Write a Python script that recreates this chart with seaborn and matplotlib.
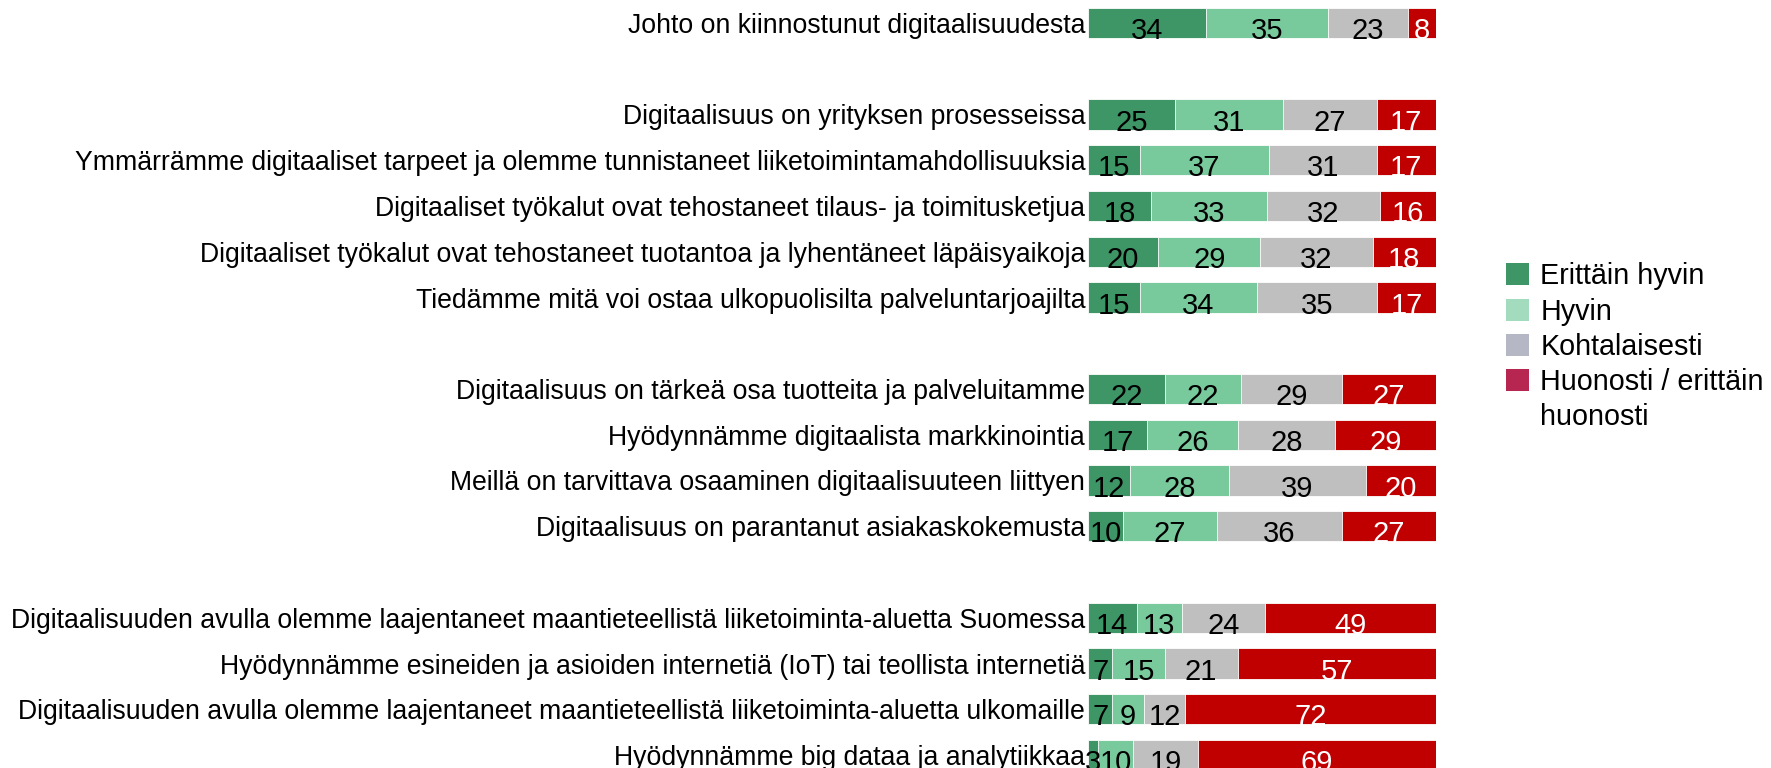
import numpy as np
import pandas as pd
import seaborn as sns
import matplotlib.pyplot as plt
from matplotlib.patches import Patch

categories = [
    'Johto on kiinnostunut digitaalisuudesta',
    'Digitaalisuus on yrityksen prosesseissa',
    'Ymmärrämme digitaaliset tarpeet ja olemme tunnistaneet liiketoimintamahdollisuuksia',
    'Digitaaliset työkalut ovat tehostaneet tilaus- ja toimitusketjua',
    'Digitaaliset työkalut ovat tehostaneet tuotantoa ja lyhentäneet läpäisyaikoja',
    'Tiedämme mitä voi ostaa ulkopuolisilta palveluntarjoajilta',
    'Digitaalisuus on tärkeä osa tuotteita ja palveluitamme',
    'Hyödynnämme digitaalista markkinointia',
    'Meillä on tarvittava osaaminen digitaalisuuteen liittyen',
    'Digitaalisuus on parantanut asiakaskokemusta',
    'Digitaalisuuden avulla olemme laajentaneet maantieteellistä liiketoiminta-aluetta Suomessa',
    'Hyödynnämme esineiden ja asioiden internetiä (IoT) tai teollista internetiä',
    'Digitaalisuuden avulla olemme laajentaneet maantieteellistä liiketoiminta-aluetta ulkomaille',
    'Hyödynnämme big dataa ja analytiikkaa',
]
groups = [0, 1, 1, 1, 1, 1, 2, 2, 2, 2, 3, 3, 3, 3]

erittain_hyvin = [34, 25, 15, 18, 20, 15, 22, 17, 12, 10, 14, 7, 7, 3]
hyvin = [35, 31, 37, 33, 29, 34, 22, 26, 28, 27, 13, 15, 9, 10]
kohtalaisesti = [23, 27, 31, 32, 32, 35, 29, 28, 39, 36, 24, 21, 12, 19]
huonosti = [8, 17, 17, 16, 18, 17, 27, 29, 20, 27, 49, 57, 72, 69]

series_names = ['Erittäin hyvin', 'Hyvin', 'Kohtalaisesti', 'Huonosti / erittäin', 'huonosti']
bar_colors = ['#3E9667', '#78CA9C', '#BFBFBF', '#C00000']
legend_colors = ['#3E9667', '#A2DBBE', '#B5B7C5', '#B72651']
text_colors = ['black', 'black', 'black', 'white']

sns.set_style('white')
plt.rcParams['font.family'] = ['Liberation Sans', 'DejaVu Sans']
plt.rcParams['text.color'] = 'black'
plt.rcParams['ytick.color'] = 'black'

vals = np.array([erittain_hyvin, hyvin, kohtalaisesti, huonosti], dtype=float)
shares = vals / vals.sum(axis=0) * 100   # bars all end at 100
cum = np.cumsum(shares, axis=0)
pos = np.arange(len(categories)) + np.array(groups)

fig = plt.figure(figsize=(17.71, 7.68), dpi=100)
ax = fig.add_axes([1088 / 1771, 0, 348 / 1771, 1])

# stacked bars: draw cumulative totals from the back to the front
for i in range(3, -1, -1):
    df = pd.DataFrame({'value': cum[i], 'pos': pos})
    sns.barplot(data=df, x='value', y='pos', orient='h', native_scale=True,
                color=bar_colors[i], saturation=1, width=0.66, errorbar=None,
                edgecolor='white', linewidth=0.6, ax=ax)

# value labels centred in each segment
for i in range(4):
    left = cum[i] - shares[i]
    for j in range(len(categories)):
        ax.text(left[j] + shares[i][j] / 2, pos[j] + 0.35, f'{int(vals[i][j])}',
                ha='center', va='baseline', fontsize=21, color=text_colors[i])

step = 45.75
ax.set_xlim(0, 100)
ax.set_ylim(16 + 13 / step, -23 / step)
ax.set_yticks(pos, categories, fontsize=19.2)
ax.set_xticks([])
ax.tick_params(axis='y', length=0, pad=2)
ax.set_xlabel('')
ax.set_ylabel('')
sns.despine(ax=ax, left=True, bottom=True)

handles = [Patch(facecolor=c, edgecolor='none') for c in legend_colors]
handles.append(Patch(facecolor='none', edgecolor='none'))
leg = fig.legend(handles, series_names, loc='upper left',
                 bbox_to_anchor=(1492 / 1771, 1 - 248 / 768), frameon=False,
                 fontsize=20.7, handlelength=0.8, handleheight=0.8,
                 handletextpad=0.38, labelspacing=0.25, borderpad=0)

fig.savefig('out.png', dpi=100)
